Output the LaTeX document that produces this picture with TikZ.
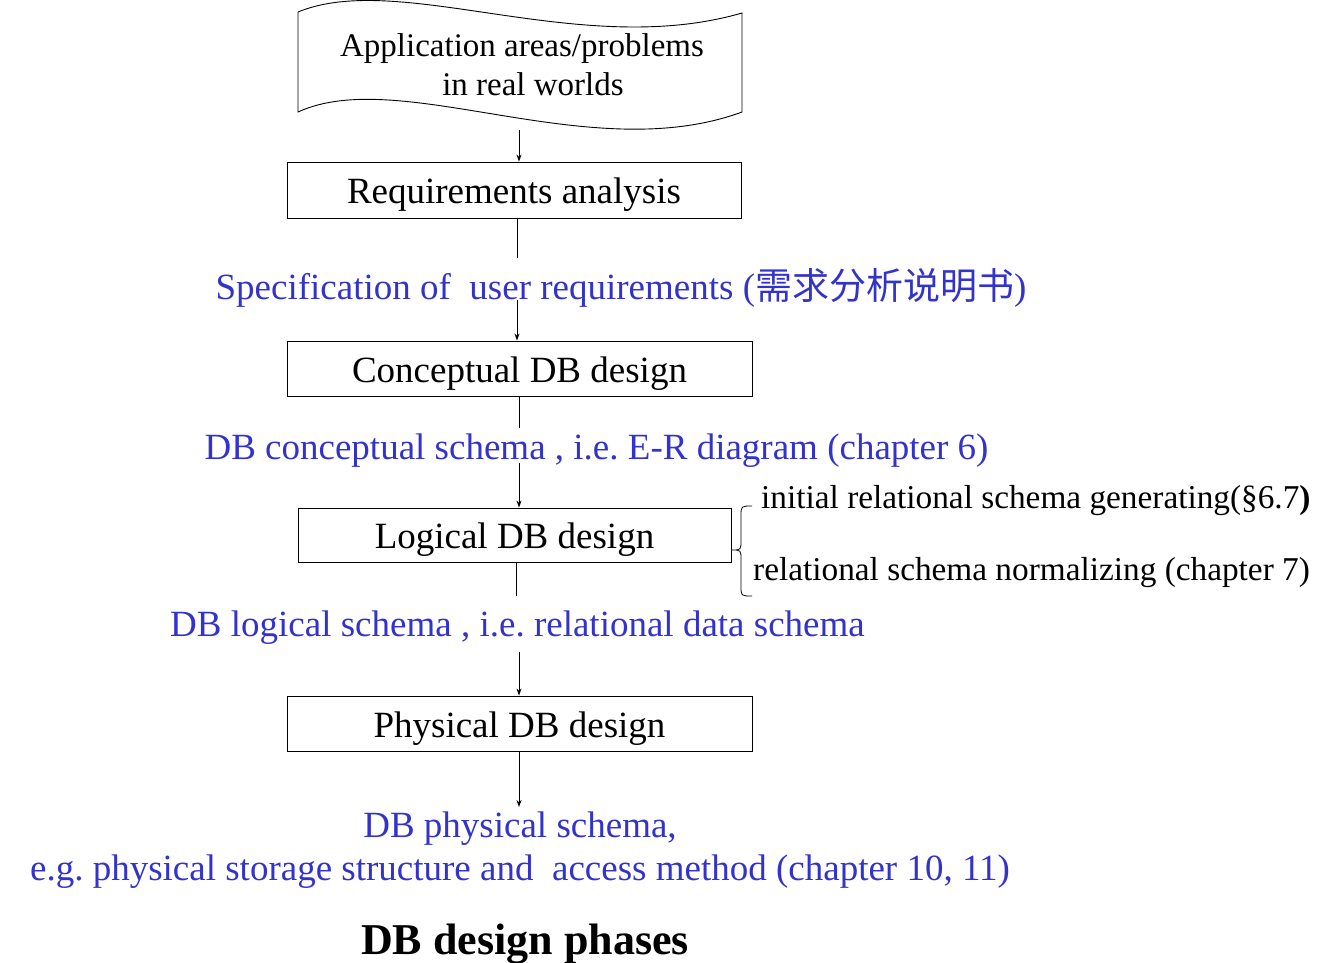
\documentclass[tikz,border=0pt]{standalone}
\usepackage{fontspec}
\setmainfont{Liberation Serif}
\newfontfamily\cjk{Noto Sans CJK SC}
\usetikzlibrary{arrows.meta}
\definecolor{noteblue}{RGB}{51,51,204}
\frenchspacing
\tikzset{
  phasebox/.style={draw=black, line width=0.9pt, inner sep=0pt, text height=35pt, text depth=8pt, font=\fontsize{37}{44}\selectfont},
  bluetext/.style={text=noteblue, inner sep=0pt, font=\fontsize{37}{44}\selectfont},
  sidetext/.style={inner sep=0pt, anchor=west, font=\fontsize{33.3}{40}\selectfont},
  conn/.style={draw=black, line width=0.9pt},
  arr/.style={conn, -{Stealth[length=7pt,width=5pt]}}
}
\begin{document}
\begin{tikzpicture}[x=1pt,y=-1pt]
\useasboundingbox (0,0) rectangle (1318,962);
% document shape
\draw[line width=0.9pt] (298,12) .. controls (400,-30) and (580,60) .. (742,13)
  -- (742,112) .. controls (590,168) and (400,65) .. (298,112) -- cycle;
\node[inner sep=0pt, align=center, font=\fontsize{33}{39}\selectfont] (app) at (522,65)
  {Application areas/problems\\\hspace*{22pt}in real worlds};
\coordinate (appout) at (519,130);
% boxes
\node[phasebox, minimum width=454pt, minimum height=56pt] (req) at (514,190) {Requirements analysis};
\node[phasebox, minimum width=465pt, minimum height=55pt] (con) at (519.5,368.5) {Conceptual DB design};
\node[phasebox, minimum width=433pt, minimum height=54pt] (log) at (514.5,535) {Logical DB design};
\node[phasebox, minimum width=465pt, minimum height=55pt] (phy) at (519.5,723.5) {Physical DB design};
% blue texts
\node[bluetext] (spec) at (621,288) {Specification of\ \ user requirements ({\cjk 需求分析说明书})};
\node[bluetext] (cschema) at (596.5,451) {DB conceptual schema , i.e. E-R diagram (chapter 6)};
\node[bluetext] (lschema) at (517.5,628) {DB logical schema , i.e. relational data schema};
\node[bluetext] (pschema1) at (520,829) {DB physical schema,};
\node[bluetext] (pschema2) at (520,872) {e.g. physical storage structure and\ \ access method (chapter 10, 11)};
% title
\node[inner sep=0pt, font=\fontsize{44}{50}\selectfont\bfseries] (title) at (525,944) {DB design phases};
% side notes
\node[sidetext] (init) at (761,501) {initial relational schema generating(\S6.7\textbf{)}};
\node[sidetext] (norm) at (753,573) {relational schema normalizing (chapter 7)};
\draw[line width=0.8pt] (752,506) .. controls (741,506) .. (741,516) -- (741,540)
  .. controls (741,550) .. (732,550) .. controls (741,550) .. (741,560) -- (741,586)
  .. controls (741,596) .. (752,596);
% connectors
\coordinate (r1) at (517,258);
\coordinate (r2) at (517,300);
\coordinate (c1) at (519,428);
\coordinate (c2) at (519,463);
\coordinate (l1) at (516,596);
\coordinate (l2) at (519,652);
\coordinate (pend) at (519,807);
\draw[arr] (appout) -- (appout |- req.north);
\draw[conn] (req.south -| r1) -- (r1);
\draw[arr] (r2) -- (r2 |- con.north);
\draw[conn] (con.south -| c1) -- (c1);
\draw[arr] (c2) -- (c2 |- log.north);
\draw[conn] (log.south -| l1) -- (l1);
\draw[arr] (l2) -- (l2 |- phy.north);
\draw[arr] (phy.south -| pend) -- (pend);
\end{tikzpicture}
\end{document}
